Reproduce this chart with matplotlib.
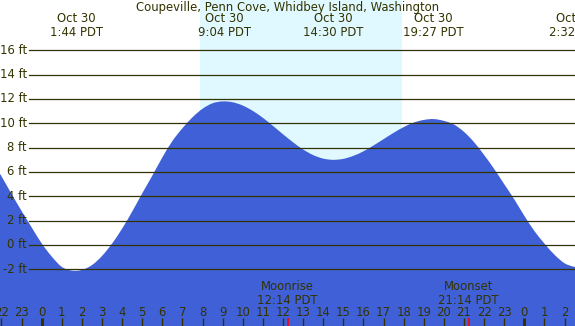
# Tide chart - Coupeville, Penn Cove, Whidbey Island, Washington
import matplotlib
matplotlib.use("Agg")
import matplotlib.pyplot as plt
from matplotlib.path import Path
from matplotlib.patches import PathPatch

# ---- data (hours since midnight Oct 30, PDT) ----
hours = [-2.5, -2.0, -1.5, -1.0, -0.5, 0.0, 0.5, 1.0, 1.5,
         2.0, 2.5, 3.0, 3.5, 4.0, 4.5, 5.0, 5.5, 6.0, 6.5, 7.0, 7.5, 8.0, 8.5, 9.0,
         9.5, 10.0, 10.5, 11.0, 11.5, 12.0, 12.5, 13.0, 13.5, 14.0, 14.5,
         15.0, 15.5, 16.0, 16.5, 17.0, 17.5, 18.0, 18.5, 19.0,
         19.5, 20.0, 20.5, 21.0, 21.5, 22.0, 22.5, 23.0, 23.5, 24.0,
         24.5, 25.0, 25.5, 26.0, 26.5, 27.0]
heights = [7.0, 5.65, 4.2, 2.8, 1.45, 0.13, -0.95, -1.8, -2.1,
           -2.05, -1.65, -0.9, 0.12, 1.35, 2.75, 4.25, 5.7, 7.2, 8.55, 9.6, 10.5, 11.2, 11.65, 11.8,
           11.73, 11.46, 11.02, 10.45, 9.79, 9.1, 8.44, 7.85, 7.39, 7.1, 7.0,
           7.08, 7.33, 7.7, 8.18, 8.7, 9.22, 9.69, 10.06, 10.28,
           10.35, 10.2, 9.9, 9.3, 8.45, 7.4, 6.25, 5.0, 3.75, 2.4,
           1.15, 0.12, -0.8, -1.5, -1.8, -1.9]

# tide extremes labels
ext_hours = [1.733, 9.067, 14.5, 19.45, 26.533]
ext_dates = ["Oct 30", "Oct 30", "Oct 30", "Oct 30", "Oct 31"]
ext_times = ["1:44 PDT", "9:04 PDT", "14:30 PDT", "19:27 PDT", "2:32 PDT"]

# moon
moon_hours = [12.233, 21.233]
moon_names = ["Moonrise", "Moonset"]
moon_times = ["12:14 PDT", "21:14 PDT"]

# daylight
sunrise, sunset = 7.87, 17.92

levels = [-2, 0, 2, 4, 6, 8, 10, 12, 14, 16]
hour_ticks = list(range(-2, 27))

title = "Coupeville, Penn Cove, Whidbey Island, Washington"

# ---- style ----
W, H = 575, 326
night = "#B0C4DE"
day = "#E0F8FF"
water = "#4060D8"
ink = "#333300"
fs = 8.4

fig = plt.figure(figsize=(W / 100, H / 100), dpi=100)
ax = fig.add_axes([0, 0, 1, 1])
x0, px_per_h = 41.7, 20.11
y0, px_per_ft = 245.0, 12.167
ax.set_xlim(-x0 / px_per_h, (W - x0) / px_per_h)
ax.set_ylim(-(H - y0) / px_per_ft, y0 / px_per_ft)
ax.set_facecolor(night)
ax.axis("off")
ax.patch.set_visible(True)

ax.axvspan(sunrise, sunset, color=day, lw=0, zorder=1)

# smooth water curve through the readings (Catmull-Rom as cubic Bezier)
verts = [(hours[0], -20), (hours[0], heights[0])]
codes = [Path.MOVETO, Path.LINETO]
n = len(hours)
for i in range(n - 1):
    p0 = (hours[max(i - 1, 0)], heights[max(i - 1, 0)])
    p1 = (hours[i], heights[i])
    p2 = (hours[i + 1], heights[i + 1])
    p3 = (hours[min(i + 2, n - 1)], heights[min(i + 2, n - 1)])
    c1 = (p1[0] + (p2[0] - p0[0]) / 6, p1[1] + (p2[1] - p0[1]) / 6)
    c2 = (p2[0] - (p3[0] - p1[0]) / 6, p2[1] - (p3[1] - p1[1]) / 6)
    verts += [c1, c2, p2]
    codes += [Path.CURVE4] * 3
verts += [(hours[-1], -20), (hours[0], -20)]
codes += [Path.LINETO, Path.CLOSEPOLY]
ax.add_patch(PathPatch(Path(verts, codes), facecolor=water, lw=0, zorder=2))

for lv in levels:
    ax.axhline(lv, xmin=29 / W, xmax=1, color=ink, lw=0.9, zorder=3)
    ax.text(27 / W, lv, "%d ft" % lv, transform=ax.get_yaxis_transform(),
            ha="right", va="center", fontsize=fs, color=ink, zorder=4)

bx = ax.get_xaxis_transform()  # x data, y axes
def yfrac(ypix):
    return 1 - ypix / H

ax.text(0.5, yfrac(7), title, transform=ax.transAxes, ha="center", va="center",
        fontsize=fs, color=ink)

for h, d, t in zip(ext_hours, ext_dates, ext_times):
    ax.text(h, yfrac(19), d, transform=bx, ha="center", va="center", fontsize=fs, color=ink)
    ax.text(h, yfrac(32), t, transform=bx, ha="center", va="center", fontsize=fs, color=ink)

for h, n_, t in zip(moon_hours, moon_names, moon_times):
    ax.text(h, yfrac(287), n_, transform=bx, ha="center", va="center", fontsize=fs, color=ink)
    ax.text(h, yfrac(300), t, transform=bx, ha="center", va="center", fontsize=fs, color=ink)
    ax.vlines(h, 0, yfrac(318), transform=bx, color="red", lw=1.2, zorder=6)

for h in hour_ticks:
    ax.text(h, yfrac(312), str(h % 24), transform=bx, ha="center", va="center",
            fontsize=fs, color=ink)
    lw = 2.2 if h % 24 == 0 else 1.0
    ax.vlines(h, 0, yfrac(318), transform=bx, color=ink, lw=lw, zorder=5)

fig.savefig("out.png", dpi=100)
